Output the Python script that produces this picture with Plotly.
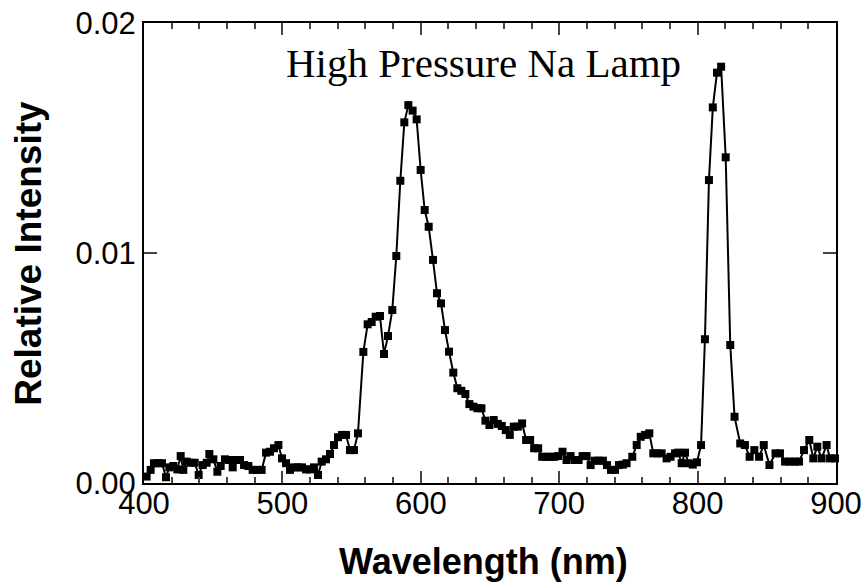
import plotly.graph_objects as go

# wavelength (nm) and relative intensity
wavelength = [
    401.9, 404.8, 407.2, 410.1, 413.0, 415.9, 418.3, 421.2, 424.1, 426.5,
    428.4, 430.8, 433.7, 436.6, 439.5, 442.4, 445.3, 447.2, 450.1, 453.0,
    455.4, 458.5, 461.4, 464.1, 467.0, 469.4, 472.3, 475.4, 478.5, 481.4,
    485.0, 488.2, 491.0, 493.9, 497.1, 499.7, 502.6, 505.5, 508.4, 511.3,
    514.2, 517.1, 519.9, 522.8, 525.7, 528.4, 531.5, 534.4, 537.3, 540.2,
    543.1, 546.0, 548.8, 551.7, 554.6, 558.5, 561.6,
    564.5, 567.4, 570.5, 573.4, 576.3, 579.4, 582.3, 585.2, 588.1, 591.0,
    594.1, 597.0, 599.9, 602.8, 605.7, 608.8, 611.7, 614.6, 617.5, 620.4,
    623.5, 626.4, 629.3, 632.2, 635.1, 638.0, 640.9, 643.8, 646.7, 649.6,
    652.7, 655.6, 658.5, 661.4, 664.3, 667.2, 670.1, 673.2, 676.1, 679.0,
    681.9, 684.8, 687.7, 690.6, 693.5, 696.4, 699.3, 702.4, 705.3, 708.2,
    711.1, 714.0, 716.9, 719.8, 722.7, 725.6, 728.5, 731.6, 734.5, 737.4,
    740.3, 743.2, 746.0, 748.7, 752.8, 756.0, 758.9, 762.0, 765.1, 768.0,
    770.9, 774.0, 777.6, 780.5, 783.7, 786.0, 788.5, 790.9, 793.6, 796.5,
    799.5, 802.5, 805.3, 808.2, 811.0, 814.0, 817.0, 820.3, 823.6, 826.7,
    830.8, 834.2, 837.6, 841.0, 844.4, 847.8, 851.9, 856.3, 859.5, 863.2,
    866.8, 870.0, 873.3, 876.9, 880.7, 883.6, 886.5, 889.6, 893.2, 895.7,
    899.3,
]
intensity = [
    0.00028, 0.00057, 0.00086, 0.00086, 0.00086, 0.00025, 0.00068, 0.00074, 0.00059, 0.00117,
    0.00057, 0.00093, 0.00088, 0.00088, 0.00035, 0.00078, 0.00088, 0.00126, 0.00103, 0.00049,
    0.00074, 0.00103, 0.00100, 0.00068, 0.00100, 0.00100, 0.00078, 0.00074, 0.00057, 0.00057,
    0.00057, 0.00132, 0.00136, 0.00151, 0.00165, 0.00107, 0.00086, 0.00057, 0.00068, 0.00068,
    0.00068, 0.00059, 0.00059, 0.00068, 0.00035, 0.00093, 0.00103, 0.00126, 0.00165, 0.00199,
    0.00209, 0.00209, 0.00143, 0.00143, 0.00216, 0.00570, 0.00690,
    0.00700, 0.00723, 0.00726, 0.00561, 0.00639, 0.00752, 0.00987, 0.01314, 0.01568, 0.01643,
    0.01619, 0.01581, 0.01361, 0.01187, 0.01114, 0.00970, 0.00825, 0.00781, 0.00665, 0.00571,
    0.00480, 0.00412, 0.00401, 0.00387, 0.00343, 0.00332, 0.00325, 0.00325, 0.00271, 0.00252,
    0.00274, 0.00257, 0.00248, 0.00230, 0.00209, 0.00245, 0.00245, 0.00259, 0.00187, 0.00187,
    0.00151, 0.00151, 0.00114, 0.00114, 0.00114, 0.00114, 0.00117, 0.00136, 0.00100, 0.00117,
    0.00100, 0.00100, 0.00117, 0.00117, 0.00078, 0.00097, 0.00097, 0.00097, 0.00078, 0.00057,
    0.00057, 0.00078, 0.00080, 0.00086, 0.00114, 0.00165, 0.00201, 0.00209, 0.00216, 0.00129,
    0.00129, 0.00129, 0.00107, 0.00114, 0.00129, 0.00132, 0.00086, 0.00132, 0.00086, 0.00080,
    0.00090, 0.00165, 0.00625, 0.01317, 0.01633, 0.01784, 0.01810, 0.01416, 0.00600, 0.00288,
    0.00172, 0.00165, 0.00114, 0.00143, 0.00114, 0.00165, 0.00078, 0.00129, 0.00129, 0.00093,
    0.00093, 0.00093, 0.00093, 0.00143, 0.00187, 0.00107, 0.00158, 0.00107, 0.00165, 0.00107,
    0.00107,
]

x_ticks = [400, 500, 600, 700, 800, 900]
y_ticks = [0.00, 0.01, 0.02]
y_ticktext = ["0.00", "0.01", "0.02"]

fig = go.Figure()
fig.add_trace(go.Scatter(
    x=wavelength, y=intensity, mode="lines+markers",
    line=dict(color="black", width=2),
    marker=dict(symbol="square", size=8, color="black"),
    cliponaxis=False,
))

axis_font = dict(family="Liberation Sans, Arial", size=31, color="black")

fig.update_xaxes(
    range=[400, 900], tickvals=x_ticks, ticks="inside", ticklen=12, tickwidth=2,
    showline=True, linewidth=2, linecolor="black", mirror="allticks",
    showgrid=False, zeroline=False, tickfont=axis_font, automargin=False,
    ticklabelstandoff=-8,
    minor=dict(dtick=20, ticks="inside", ticklen=6, tickwidth=2, showgrid=False),
)
fig.update_yaxes(
    range=[0, 0.02], tickvals=y_ticks, ticktext=y_ticktext, ticks="inside",
    ticklen=13, tickwidth=2, showline=True, linewidth=2, linecolor="black",
    mirror="allticks", showgrid=False, zeroline=False, tickfont=axis_font,
    automargin=False,
)

fig.add_annotation(
    text="High Pressure Na Lamp", xref="paper", yref="paper", x=0.49, y=0.912,
    showarrow=False, xanchor="center", yanchor="middle",
    font=dict(family="Liberation Serif, Times New Roman", size=41, color="black"),
)
fig.add_annotation(
    text="<b>Wavelength (nm)</b>", xref="paper", yref="paper", x=0.49, y=-0.17,
    showarrow=False, xanchor="center", yanchor="middle",
    font=dict(family="Liberation Sans, Arial", size=36, color="black"),
)
fig.add_annotation(
    text="<b>Relative Intensity</b>", xref="paper", yref="paper", x=-0.168, y=0.5,
    showarrow=False, xanchor="center", yanchor="middle", textangle=-90,
    font=dict(family="Liberation Sans, Arial", size=37, color="black"),
)

fig.update_layout(
    width=866, height=583,
    margin=dict(l=144, r=30, t=23, b=100),
    plot_bgcolor="white", paper_bgcolor="white",
    showlegend=False,
)

# drop the browser's default page margin so the figure sits at 0,0
fig.write_html("out.html", config={"displayModeBar": False},
               post_script="document.body.style.margin='0';")
